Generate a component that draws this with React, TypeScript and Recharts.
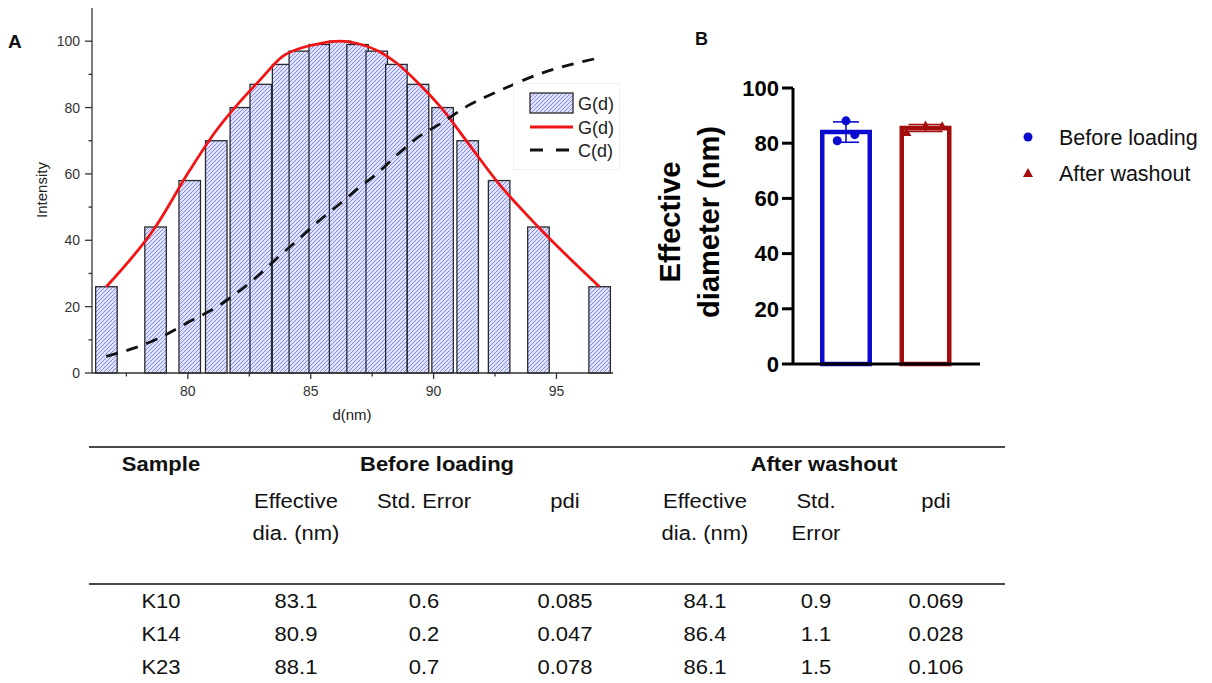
import React from "react";
import {
  ComposedChart,
  Bar,
  Line,
  Scatter,
  XAxis,
  YAxis,
  Legend,
  ErrorBar,
  Cell,
} from "recharts";

// ---- panel A: size distribution ----
const diameters = [76.68, 78.68, 80.07, 81.15, 82.15, 82.96, 83.87, 84.55, 85.36, 86.19, 86.9, 87.68, 88.48, 89.36, 90.36, 91.38, 92.66, 94.26, 96.75];
const histogram = [26, 44, 58, 70, 80, 87, 93, 97, 99, 100, 99, 97, 93, 87, 80, 70, 58, 44, 26];
const gaussFit = [26, 44, 61, 73, 82, 88.5, 95.5, 97.8, 99.3, 100, 99.3, 97.3, 93.5, 87.5, 79.5, 69.5, 57, 44, 26];
const cumulative = [5, 10, 15.5, 19.8, 25, 30, 36.2, 40.6, 46, 51, 55.5, 60, 65.5, 71, 75.5, 80.5, 85, 90, 95];
const xTicksA = [77.5, 80, 82.5, 85, 87.5, 90, 92.5, 95];
const yTicksA = [0, 10, 20, 30, 40, 50, 60, 70, 80, 90, 100];
const legendA = ["G(d)", "G(d)", "C(d)"];

// ---- panel B + table ----
const samples = ["K10", "K14", "K23"];
const beforeDia = [83.1, 80.9, 88.1];
const beforeSE = [0.6, 0.2, 0.7];
const beforePdi = ["0.085", "0.047", "0.078"];
const afterDia = [84.1, 86.4, 86.1];
const afterSE = [0.9, 1.1, 1.5];
const afterPdi = ["0.069", "0.028", "0.106"];
const groups = ["Before loading", "After washout"];
const yTicksB = [0, 20, 40, 60, 80, 100];
// horizontal spread of the replicate points inside each bar
const beforeJitter = [0.11, -0.11, 0];
const afterJitter = [-0.24, 0, 0.21];

const subHeads = [["Effective", "dia. (nm)"], ["Std. Error"], ["pdi"], ["Effective", "dia. (nm)"], ["Std.", "Error"], ["pdi"]];

const FONT = "Arial, 'Liberation Sans', Helvetica, sans-serif";
const BLUE = "#0b0bcf";
const RED = "#a30d0d";

const mean = (a: number[]) => a.reduce((s, v) => s + v, 0) / a.length;
const sd = (a: number[]) => {
  const m = mean(a);
  return Math.sqrt(a.reduce((s, v) => s + (v - m) * (v - m), 0) / (a.length - 1));
};

const distData = diameters.map((d, i) => ({ d, g: histogram[i], fit: gaussFit[i], c: cumulative[i] }));
const barData = groups.map((name, i) => ({ name, value: mean(i === 0 ? beforeDia : afterDia) }));
const beforeMean = [{ x: 0, y: mean(beforeDia), err: sd(beforeDia) }];
const afterMean = [{ x: 1, y: mean(afterDia), err: sd(afterDia) }];
const beforePts = beforeDia.map((v, i) => ({ x: 0 + beforeJitter[i], y: v }));
const afterPts = afterDia.map((v, i) => ({ x: 1 + afterJitter[i], y: v }));

const tableRows = samples.map((s, i) => [
  s,
  beforeDia[i].toFixed(1),
  beforeSE[i].toFixed(1),
  beforePdi[i],
  afterDia[i].toFixed(1),
  afterSE[i].toFixed(1),
  afterPdi[i],
]);

const HatchBar = (props: any) => {
  const { x, width, y, height } = props;
  const w = 21.5;
  const cx = x + width / 2;
  return <rect x={cx - w / 2} y={y} width={w} height={height} fill="url(#hatchA)" stroke="#2a2a2a" strokeWidth={1.3} />;
};

const AXTick = (props: any) => {
  const { x, y, payload } = props;
  const major = payload.value % 5 === 0;
  return (
    <g>
      <line x1={x} x2={x} y1={y} y2={y + (major ? 6 : 3.5)} stroke="#333" strokeWidth={1.3} />
      {major && (
        <text x={x} y={y + 23} textAnchor="middle" fontSize={14} fill="#333" fontFamily={FONT}>
          {payload.value}
        </text>
      )}
    </g>
  );
};

const AYTick = (props: any) => {
  const { x, y, payload } = props;
  const major = payload.value % 20 === 0;
  return (
    <g>
      <line x1={x - (major ? 7 : 3.5)} x2={x} y1={y} y2={y} stroke="#333" strokeWidth={1.3} />
      {major && (
        <text x={x - 12} y={y + 5} textAnchor="end" fontSize={14} fill="#333" fontFamily={FONT}>
          {payload.value}
        </text>
      )}
    </g>
  );
};

const ALegend = () => (
  <svg width={107} height={87} style={{ display: "block" }}>
    <rect x={0.5} y={0.5} width={106} height={86} fill="#fff" stroke="#f0f0f0" />
    <rect x={17} y={10} width={43} height={20} fill="url(#hatchA)" stroke="#2a2a2a" strokeWidth={1.3} />
    <line x1={17} x2={60} y1={44} y2={44} stroke="#f21414" strokeWidth={3} />
    <line x1={17} x2={60} y1={67} y2={67} stroke="#111" strokeWidth={3} strokeDasharray="13 13" />
    {legendA.map((t, i) => (
      <text key={i} x={65} y={[20, 44, 67][i] + 6.5} fontSize={18} fill="#222" fontFamily={FONT}>
        {t}
      </text>
    ))}
  </svg>
);

const BLegend = () => (
  <svg width={200} height={72} style={{ display: "block" }}>
    <circle cx={13} cy={17} r={4.5} fill={BLUE} />
    <path d="M13,48 L18,57 L8,57 Z" fill={RED} />
    {groups.map((g, i) => (
      <text key={g} x={44} y={[17, 53][i] + 8} fontSize={21.5} fill="#111" fontFamily={FONT}>
        {g}
      </text>
    ))}
  </svg>
);

const Dot = (p: any) => <circle cx={p.cx} cy={p.cy} r={4.5} fill={BLUE} />;
const Tri = (p: any) => <path d={`M${p.cx},${p.cy - 5} L${p.cx + 5},${p.cy + 4} L${p.cx - 5},${p.cy + 4} Z`} fill={RED} />;
const Nothing = () => <g />;

const abs = (left: number, top: number, extra: React.CSSProperties = {}): React.CSSProperties => ({
  position: "absolute",
  left,
  top,
  fontFamily: FONT,
  whiteSpace: "nowrap",
  ...extra,
});

const Cell2 = ({ x, y, text, bold }: { x: number; y: number; text: string; bold?: boolean }) => (
  <div
    style={abs(x, y, {
      transform: "translate(-50%, -50%) scaleX(1.1)",
      fontSize: 20,
      fontWeight: bold ? 700 : 400,
      color: "#111",
    })}
  >
    {text}
  </div>
);

const colX = [161, 296, 424, 565, 705, 816, 936];
const rowY = [601, 633.5, 667];

export default function App() {
  return (
    <div style={{ position: "absolute", left: 0, top: 0, width: 1212, height: 683, background: "#fff", overflow: "hidden" }}>
      <svg width={0} height={0} style={{ position: "absolute" }}>
        <defs>
          <pattern id="hatchA" patternUnits="userSpaceOnUse" width={4} height={4}>
            <rect width={4} height={4} fill="#e0e3ff" />
            <path d="M-1,1 l2,-2 M0,4 l4,-4 M3,5 l2,-2" stroke="#6b73f0" strokeWidth={0.8} />
          </pattern>
        </defs>
      </svg>

      {/* panel A */}
      <div style={{ position: "absolute", left: 0, top: 0 }}>
        <ComposedChart width={640} height={420} data={distData} margin={{ top: 8, right: 27, bottom: 17, left: 32 }}>
          <XAxis
            dataKey="d"
            type="number"
            domain={[76.1, 97.3]}
            allowDataOverflow
            ticks={xTicksA}
            interval={0}
            tick={<AXTick />}
            tickLine={false}
            tickSize={0}
            tickMargin={0}
            height={30}
            axisLine={{ stroke: "#333", strokeWidth: 1.3 }}
          />
          <YAxis
            type="number"
            domain={[0, 110]}
            ticks={yTicksA}
            interval={0}
            tick={<AYTick />}
            tickLine={false}
            tickSize={0}
            tickMargin={0}
            width={60}
            axisLine={{ stroke: "#333", strokeWidth: 1.3 }}
          />
          <Bar dataKey="g" name="G(d)" barSize={22} shape={<HatchBar />} isAnimationActive={false} />
          <Line dataKey="fit" name="G(d)" type="monotone" stroke="#f21414" strokeWidth={2.8} dot={false} isAnimationActive={false} />
          <Line dataKey="c" name="C(d)" type="monotone" stroke="#111" strokeWidth={2.8} strokeDasharray="12 9" dot={false} isAnimationActive={false} />
          <Legend
            layout="vertical"
            align="center"
            verticalAlign="middle"
            content={<ALegend />}
            wrapperStyle={{ left: 513, top: 83, width: 107, height: 87 }}
          />
        </ComposedChart>
      </div>
      <div style={abs(8, 31, { fontSize: 19, fontWeight: 700, color: "#111" })}>A</div>
      <div style={abs(41, 190, { fontSize: 15, color: "#222", transform: "translate(-50%, -50%) rotate(-90deg)" })}>Intensity</div>
      <div style={abs(352, 414, { fontSize: 15, color: "#222", transform: "translate(-50%, -50%)" })}>d(nm)</div>

      {/* panel B */}
      <div style={{ position: "absolute", left: 640, top: 0 }}>
        <ComposedChart width={572} height={400} data={barData} margin={{ top: 88, right: 232, bottom: 16, left: 83 }}>
          <XAxis
            xAxisId="cat"
            dataKey="name"
            type="category"
            padding={{ left: 13.25, right: 14.75 }}
            tick={false}
            tickLine={false}
            height={20}
            axisLine={{ stroke: "#000", strokeWidth: 3 }}
          />
          <XAxis
            xAxisId="j"
            dataKey="x"
            type="number"
            domain={[-0.5, 1.5]}
            allowDataOverflow
            padding={{ left: 13.25, right: 14.75 }}
            hide
          />
          <YAxis
            type="number"
            domain={[0, 100]}
            ticks={yTicksB}
            interval={0}
            width={70}
            tickSize={11}
            tickMargin={3}
            tick={{ fill: "#000", fontSize: 22, fontWeight: 700, fontFamily: FONT }}
            tickLine={{ stroke: "#000", strokeWidth: 3 }}
            axisLine={{ stroke: "#000", strokeWidth: 3 }}
          />
          <Bar xAxisId="cat" dataKey="value" barSize={47.5} fill="#fff" strokeWidth={4.5} legendType="none" isAnimationActive={false}>
            {barData.map((d, i) => (
              <Cell key={d.name} stroke={i === 0 ? BLUE : RED} fill="#fff" />
            ))}
          </Bar>
          <Scatter xAxisId="j" data={beforeMean} dataKey="y" shape={<Nothing />} legendType="none" isAnimationActive={false}>
            <ErrorBar dataKey="err" direction="y" width={13} stroke={BLUE} strokeWidth={1.6} />
          </Scatter>
          <Scatter xAxisId="j" data={afterMean} dataKey="y" shape={<Nothing />} legendType="none" isAnimationActive={false}>
            <ErrorBar dataKey="err" direction="y" width={17} stroke={RED} strokeWidth={1.6} />
          </Scatter>
          <Scatter xAxisId="j" data={beforePts} dataKey="y" name={groups[0]} shape={<Dot />} isAnimationActive={false} />
          <Scatter xAxisId="j" data={afterPts} dataKey="y" name={groups[1]} shape={<Tri />} isAnimationActive={false} />
          <Legend
            layout="vertical"
            align="center"
            verticalAlign="middle"
            content={<BLegend />}
            wrapperStyle={{ left: 375, top: 120, width: 200, height: 72 }}
          />
        </ComposedChart>
      </div>
      <div style={abs(695, 29, { fontSize: 18, fontWeight: 700, color: "#111" })}>B</div>
      <div
        style={abs(690, 222, {
          fontSize: 29,
          fontWeight: 700,
          color: "#000",
          lineHeight: "39px",
          textAlign: "center",
          transform: "translate(-50%, -50%) rotate(-90deg)",
        })}
      >
        Effective
        <br />
        diameter (nm)
      </div>

      {/* table */}
      <div style={{ position: "absolute", left: 89, top: 446, width: 916, height: 2, background: "#4a4a4a" }} />
      <div style={{ position: "absolute", left: 89, top: 583, width: 916, height: 2, background: "#4a4a4a" }} />
      <Cell2 x={colX[0]} y={464} text="Sample" bold />
      <Cell2 x={437} y={464} text={groups[0]} bold />
      <Cell2 x={824} y={464} text={groups[1]} bold />
      {subHeads.map((lines, c) =>
        lines.map((t, k) => <Cell2 key={`${c}-${k}`} x={colX[c + 1]} y={501 + k * 32} text={t} />)
      )}
      {tableRows.map((row, r) => row.map((t, c) => <Cell2 key={`${r}-${c}`} x={colX[c]} y={rowY[r]} text={t} />))}
    </div>
  );
}
